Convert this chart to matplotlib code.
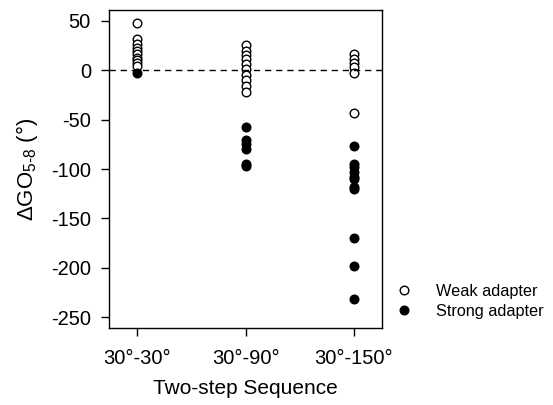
import numpy as np
import matplotlib
matplotlib.use("Agg")
import matplotlib.pyplot as plt

plt.rcParams['font.family'] = ['Liberation Sans', 'DejaVu Sans']
plt.rcParams['mathtext.fontset'] = 'custom'
plt.rcParams['mathtext.rm'] = 'Liberation Sans'
plt.rcParams['mathtext.it'] = 'Liberation Sans'

sequences = ["30°-30°", "30°-90°", "30°-150°"]
weak_vals = [
    [48, 32, 27, 23, 20, 17, 13, 10, 7, 4],
    [26, 20, 16, 12, 6, 1, -5, -10, -16, -22],
    [17, 12, 7, 3, -3, -43],
]
strong_vals = [
    [-3],
    [-57, -71, -75, -80, -95, -97],
    [-77, -95, -98, -103, -108, -110, -118, -120, -170, -198, -232],
]

fig = plt.figure(figsize=(5.53, 4.05), dpi=100)
ax = fig.add_axes([0.197, 0.19, 0.494, 0.785])

for i in range(len(sequences)):
    xw = np.full(len(weak_vals[i]), i + 1)
    xs = np.full(len(strong_vals[i]), i + 1)
    ax.plot(xw, weak_vals[i], 'o', mfc='white', mec='black', ms=6.2, mew=1.0,
            label="Weak adapter" if i == 0 else None)
    ax.plot(xs, strong_vals[i], 'o', mfc='black', mec='black', ms=6.2,
            label="Strong adapter" if i == 0 else None)

ax.axhline(0, color='black', ls=(0, (4.5, 3.5)), lw=1)

ax.set_xlim(0.74, 3.26)
ax.set_ylim(-261, 61)
ax.set_xticks([1, 2, 3])
ax.set_xticklabels(sequences)
ax.set_yticks([50, 0, -50, -100, -150, -200, -250])
ax.set_yticklabels(["50", "0", "-50", "-100", "-150", "-200", "-250"])
ax.tick_params(labelsize=14.5, length=6, width=1, color='black', pad=7)
ax.tick_params(axis='x', pad=9)
for s in ax.spines.values():
    s.set_linewidth(1)

ax.set_xlabel("Two-step Sequence", fontsize=15, labelpad=8)
ax.set_ylabel(r"$\Delta$GO$_{\mathregular{5\text{-}8}}$ (°)", fontsize=16, labelpad=8)

fig.legend(loc='upper left', bbox_to_anchor=(0.69, 0.335), frameon=False,
           fontsize=11.7, handletextpad=1.45, labelspacing=0.3, handlelength=1)

fig.savefig("out.png", dpi=100)
